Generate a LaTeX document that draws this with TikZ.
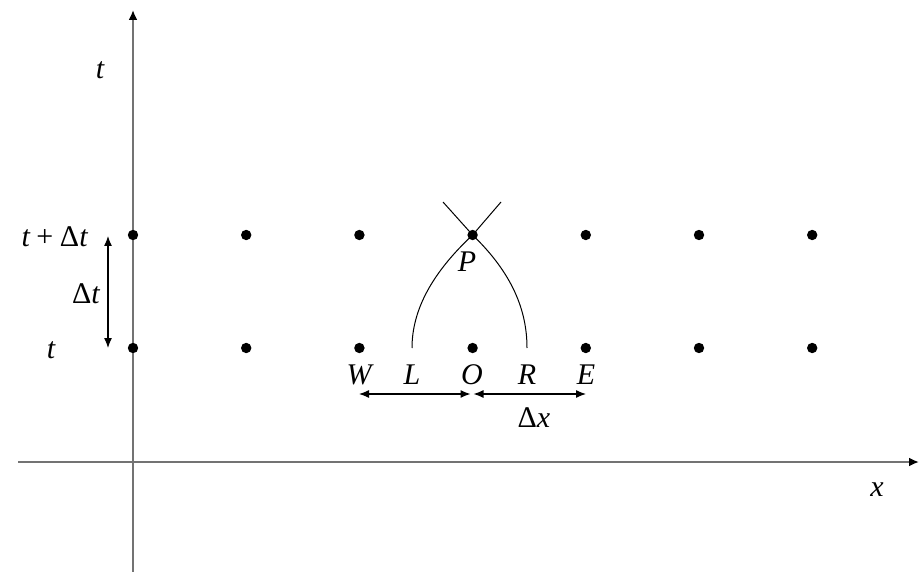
\documentclass[tikz,border=0pt]{standalone}
\usepackage{fontspec}
\setmainfont{Liberation Serif}
\usepackage{tikz}
\usetikzlibrary{arrows.meta, positioning}

\begin{document}
\begin{tikzpicture}[
  x=0.5pt, y=-0.5pt,
  axis/.style={draw=black!55, line width=1pt, -{Latex[length=5pt, width=4.5pt, black]}},
  gridpt/.style={circle, fill=black, inner sep=0pt, minimum size=5.2pt},
  lbl/.style={font=\fontsize{15}{17}\selectfont\itshape, inner sep=0pt},
  dbl/.style={{Latex[length=5pt, width=4pt]}-{Latex[length=5pt, width=4pt]}, line width=0.6pt},
  charline/.style={line width=0.5pt}
]
\useasboundingbox (0,0) rectangle (920,572);

% axes
\coordinate (xstart) at (18,462);
\coordinate (xend) at (919,462);
\coordinate (tstart) at (133,572);
\coordinate (tend) at (133,10);
\draw[axis] (xstart) -- (xend);
\draw[axis] (tstart) -- (tend);

% grid points on the two time levels
\foreach \i in {0,...,6} {
  \node[gridpt] (up\i) at (133+113.2*\i,235) {};
  \node[gridpt] (lo\i) at (133+113.2*\i,348) {};
}

% axis and level labels
\node[lbl] (tlab) at (100,70) {t};
\node[lbl] (xlab) at (877,490) {x};
\node[lbl, anchor=east] (tdt) at (88,237) {t\hspace{0.22em}\upshape+\hspace{0.22em}Δ\itshape t};
\node[lbl] (tlev) at (51,350) {t};
\node[lbl] (dtlab) at (86,294) {\upshape Δ\itshape t};

% foot points of the characteristics
\coordinate (Lpt) at (412,348);
\coordinate (Rpt) at (527,348);

\node[lbl] (W) at (359,375) {W};
\node[lbl] (L) at (412,375) {L};
\node[lbl] (O) at (472,375) {O};
\node[lbl] (R) at (527,375) {R};
\node[lbl] (E) at (586,375) {E};
\node[lbl] (P) at (467,262) {P};
\node[lbl] (dxlab) at (534,418) {\upshape Δ\itshape x};

% characteristics through P
\coordinate (lend) at (501,202);
\coordinate (rend) at (443,202);
\draw[charline] (Lpt) .. controls (412,310) and (432,273) .. (up3.center) -- (lend);
\draw[charline] (Rpt) .. controls (527,310) and (512,273) .. (up3.center) -- (rend);

% spacing arrows
\coordinate (dttop) at (108,236);
\coordinate (dtbot) at (108,348);
\draw[dbl] (dttop) -- (dtbot);

\coordinate (dxa) at (359,394);
\coordinate (dxb) at (470.5,394);
\coordinate (dxc) at (473.5,394);
\coordinate (dxd) at (586,394);
\draw[dbl] (dxa) -- (dxb);
\draw[dbl] (dxc) -- (dxd);
\end{tikzpicture}
\end{document}
